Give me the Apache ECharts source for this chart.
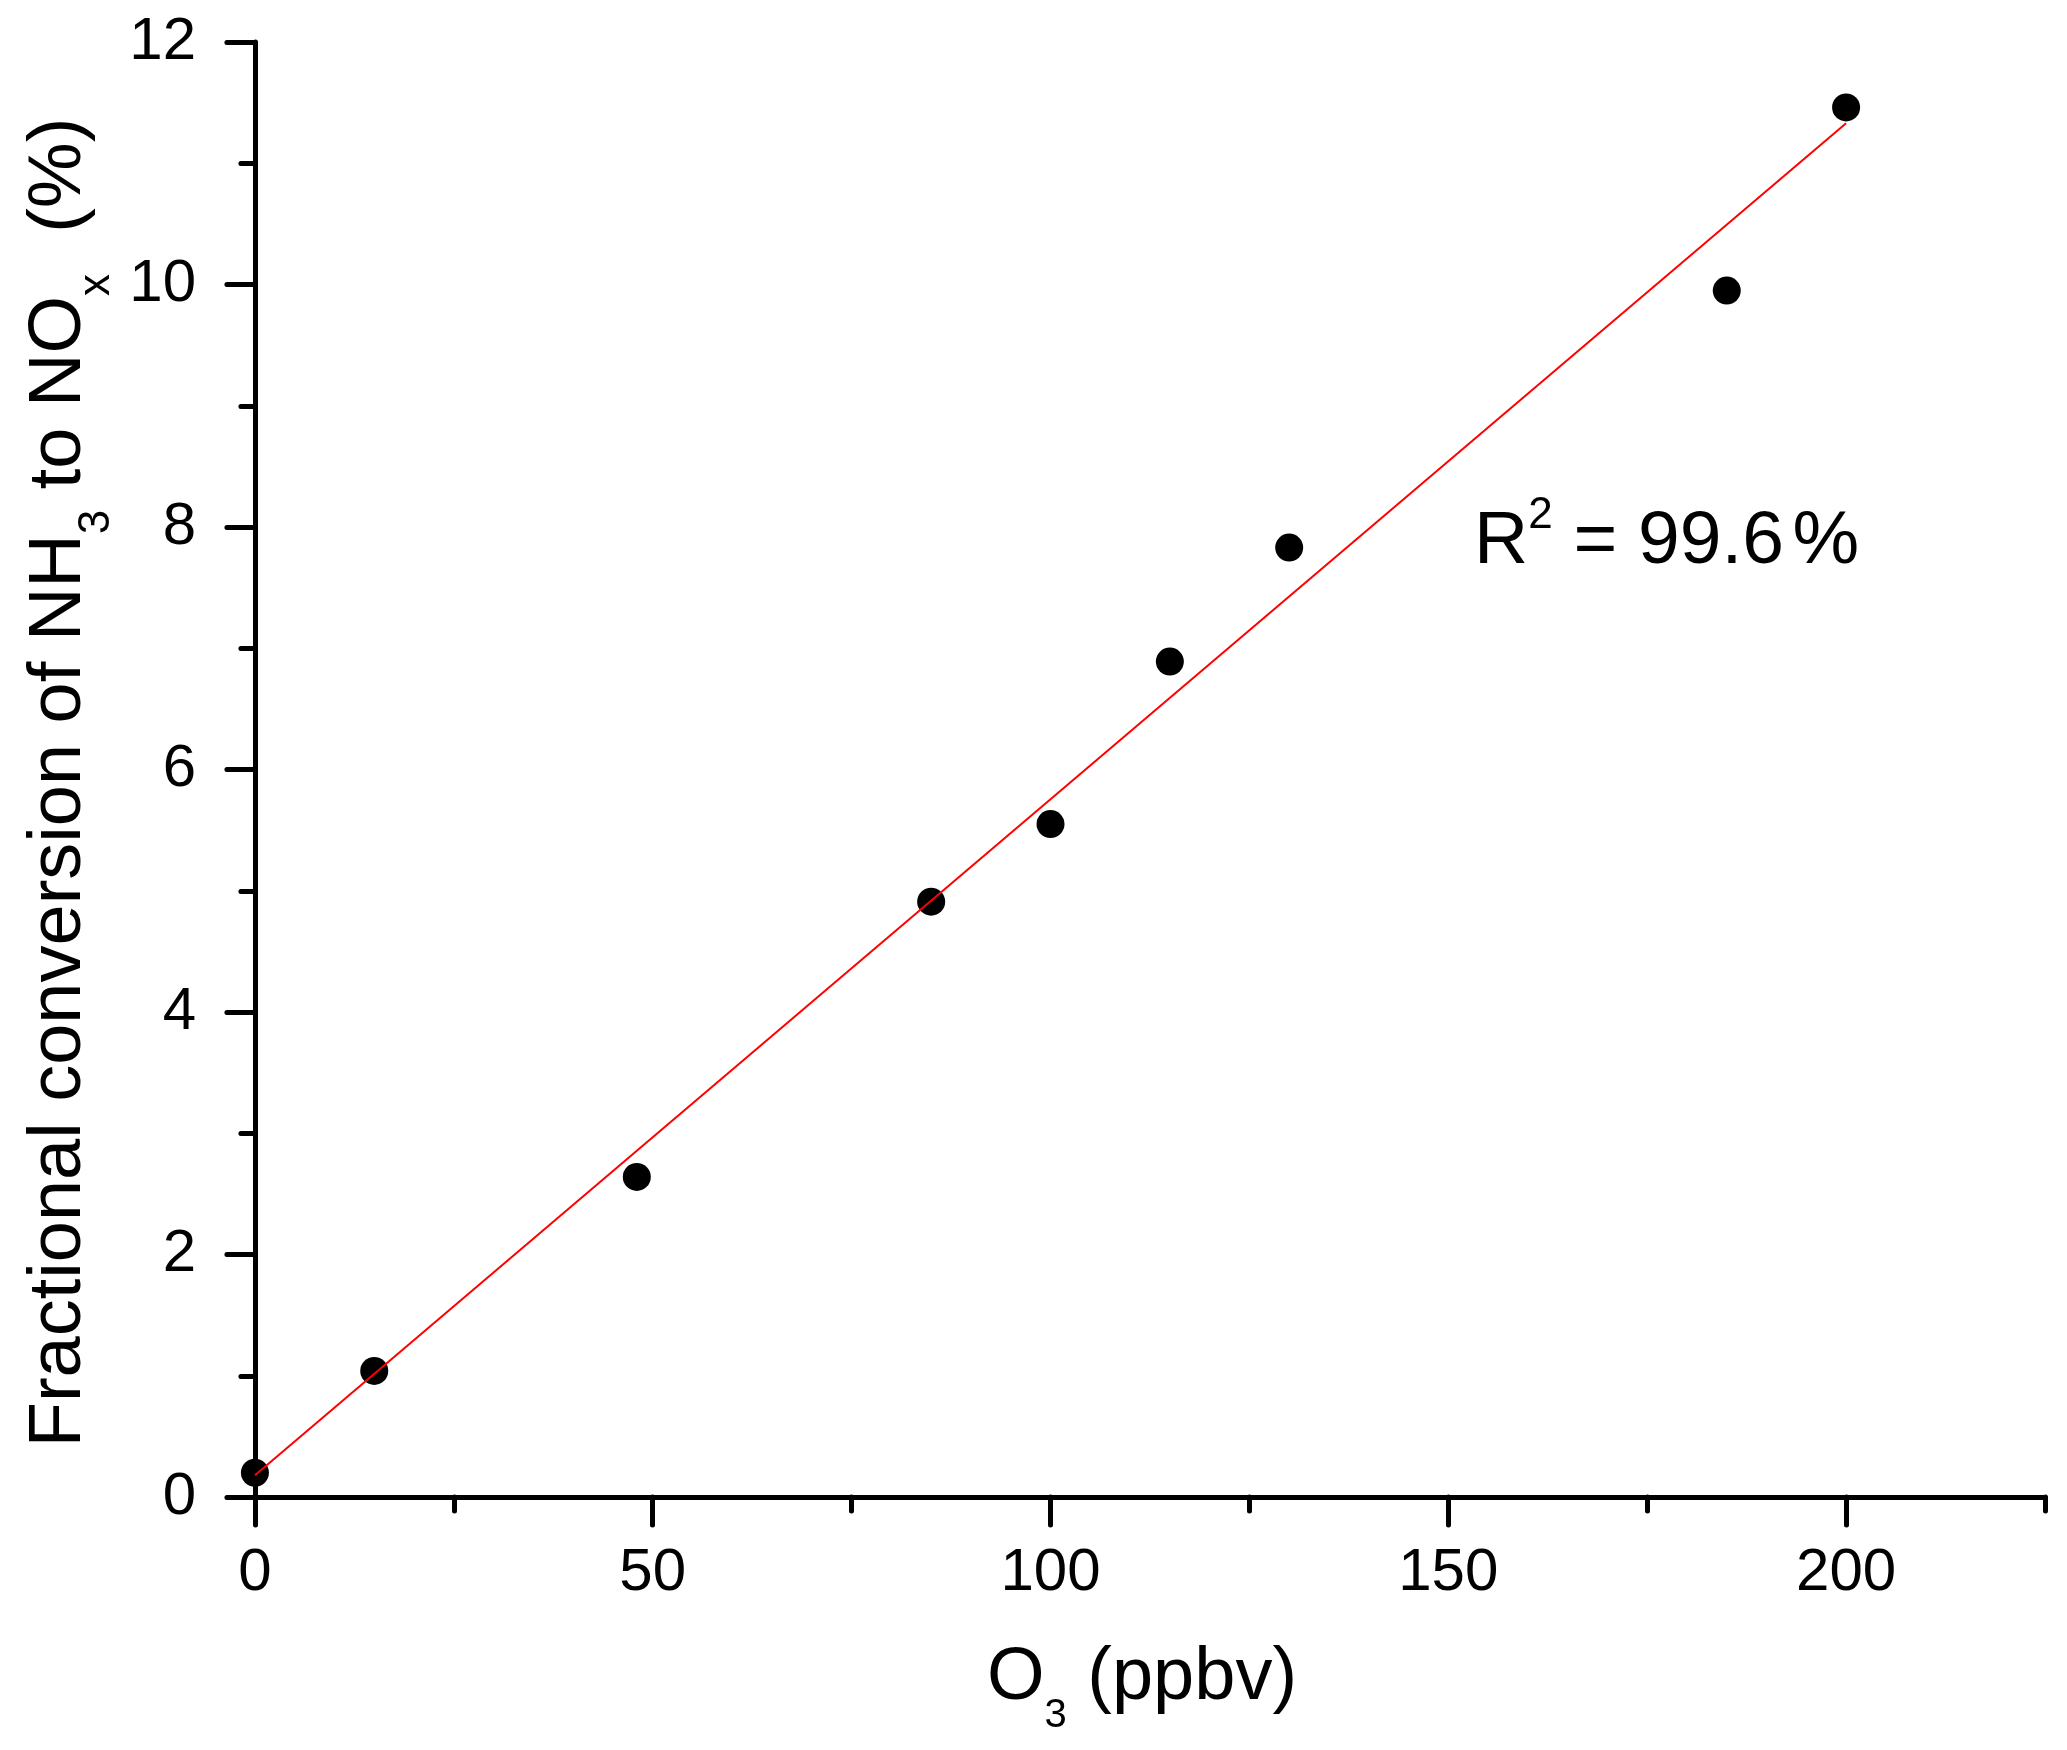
<!DOCTYPE html>
<html>
<head>
<meta charset="utf-8">
<script src="https://cdn.jsdelivr.net/npm/echarts@6/dist/echarts.min.js"></script>
<style>
  html, body { margin: 0; padding: 0; background: #fff; }
  #chart { width: 2067px; height: 1750px; }
</style>
</head>
<body>
<div id="chart"></div>
<script>
  // measured points: O3 (ppbv) vs conversion (%)
  var o3 = [0, 15, 48, 85, 100, 115, 130, 185, 200];
  var conversion = [0.20, 1.04, 2.64, 4.91, 5.55, 6.89, 7.83, 9.95, 11.46];

  var fitX = [0, 200];
  var fitY = [0.18, 11.33];

  var xMajorTicks = [0, 50, 100, 150, 200];
  var xMinorTicks = [25, 75, 125, 175, 225];
  var rSquaredValue = '99.6';

  var FONT = '"Liberation Sans", Arial, sans-serif';

  var chart = echarts.init(document.getElementById('chart'));

  var axisLine = { show: true, lineStyle: { color: '#000', width: 5, cap: 'round' } };
  var tickStyle = { color: '#000', width: 5, cap: 'round' };

  chart.setOption({
    backgroundColor: '#fff',
    animation: false,
    grid: { left: 239, right: 22, top: 42, bottom: 253, outerBoundsMode: 'none', containLabel: false },
    xAxis: [
      {
        type: 'value',
        min: -2,
        max: 225,
        position: 'bottom',
        axisLine: axisLine,
        axisTick: { show: true, length: 28, customValues: xMajorTicks, lineStyle: tickStyle },
        axisLabel: {
          customValues: xMajorTicks, margin: 46,
          color: '#000', fontSize: 60, fontFamily: FONT
        },
        splitLine: { show: false },
        name: '{m|O}{s|3}{m| (ppbv)}',
        nameLocation: 'middle',
        nameGap: 145,
        nameTextStyle: {
          fontFamily: FONT,
          rich: {
            m: { fontSize: 74, lineHeight: 74, color: '#000', fontFamily: FONT, verticalAlign: 'top' },
            s: { fontSize: 40, lineHeight: 40, color: '#000', fontFamily: FONT, verticalAlign: 'top', padding: [54, 0, 0, 0] }
          }
        }
      },
      {
        // short minor ticks between the labelled ones
        type: 'value',
        min: -2,
        max: 225,
        position: 'bottom',
        axisLine: { show: false },
        axisTick: { show: true, length: 14, customValues: xMinorTicks, lineStyle: tickStyle },
        axisLabel: { show: false },
        splitLine: { show: false }
      }
    ],
    yAxis: {
      type: 'value',
      min: 0,
      max: 12,
      interval: 2,
      axisLine: axisLine,
      axisTick: { show: true, length: 28, lineStyle: tickStyle },
      minorTick: { show: true, splitNumber: 2, length: 14, lineStyle: tickStyle },
      axisLabel: { margin: 43, color: '#000', fontSize: 60, fontFamily: FONT },
      splitLine: { show: false },
      minorSplitLine: { show: false },
      name: '{m|Fractional conversion of NH}{s|3}{m| to NO}{s|x}{m|  (%)}',
      nameLocation: 'middle',
      nameGap: 138,
      nameTextStyle: {
        fontFamily: FONT,
        padding: [0, 26, 0, 0],
        rich: {
          m: { fontSize: 74, lineHeight: 74, color: '#000', fontFamily: FONT, verticalAlign: 'top' },
          s: { fontSize: 44, lineHeight: 44, color: '#000', fontFamily: FONT, verticalAlign: 'top', padding: [52, 0, 0, 0] }
        }
      }
    },
    graphic: [
      {
        type: 'text',
        left: 1474,
        top: 494,
        style: {
          text: '{m|R}{p|2}{m| = ' + rSquaredValue + '}{t| }{m|%}',
          fill: '#000',
          rich: {
            m: { fontSize: 75, lineHeight: 75, fontFamily: FONT, fill: '#000', verticalAlign: 'top', padding: [11, 0, 0, 0] },
            p: { fontSize: 44, lineHeight: 44, fontFamily: FONT, fill: '#000', verticalAlign: 'top' },
            t: { fontSize: 30, lineHeight: 30, fontFamily: FONT, fill: '#000', verticalAlign: 'top' }
          }
        }
      }
    ],
    series: [
      {
        type: 'scatter',
        xAxisIndex: 0,
        data: o3.map(function(x, i) { return [x, conversion[i]]; }),
        symbol: 'circle',
        symbolSize: 28,
        itemStyle: { color: '#000', opacity: 1 },
        z: 2
      },
      {
        type: 'line',
        xAxisIndex: 0,
        data: fitX.map(function(x, i) { return [x, fitY[i]]; }),
        showSymbol: false,
        symbol: 'none',
        lineStyle: { color: '#ff0000', width: 2 },
        z: 3
      }
    ]
  });
</script>
</body>
</html>
